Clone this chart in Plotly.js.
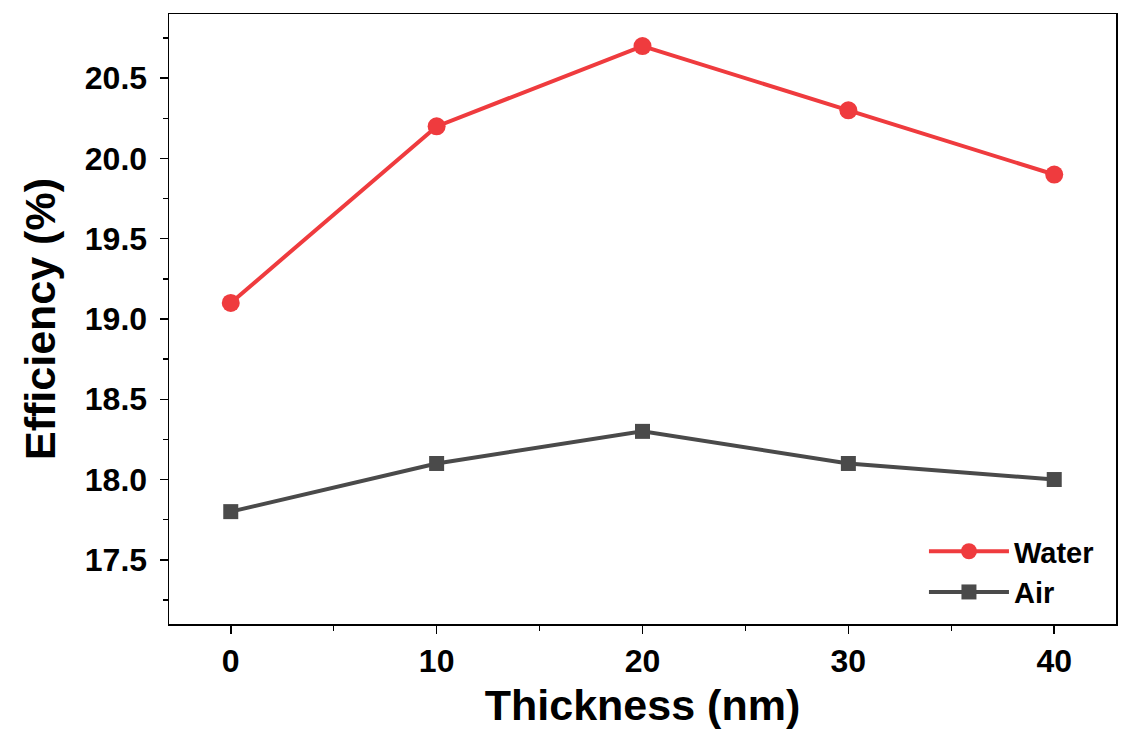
<!DOCTYPE html>
<html>
<head>
<meta charset="utf-8">
<script src="https://cdn.plot.ly/plotly-3.0.1.min.js"></script>
<style>html,body{margin:0;padding:0;background:#fff;}#chart{width:1131px;height:748px;}</style>
</head>
<body>
<div id="chart"></div>
<script>
const thickness = [0, 10, 20, 30, 40];
const water = [19.1, 20.2, 20.7, 20.3, 19.9];
const air = [17.8, 18.1, 18.3, 18.1, 18.0];
const xTickVals = [0, 10, 20, 30, 40];
const yTickVals = [17.5, 18.0, 18.5, 19.0, 19.5, 20.0, 20.5];

const font = 'Liberation Sans, Arial, sans-serif';
const traces = [
  {x: thickness, y: water, name: 'Water', mode: 'lines+markers', type: 'scatter',
   line: {color: '#ef3b3e', width: 4}, marker: {symbol: 'circle', size: 18, color: '#ef3b3e'}},
  {x: thickness, y: air, name: 'Air', mode: 'lines+markers', type: 'scatter',
   line: {color: '#4a4a4a', width: 4}, marker: {symbol: 'square', size: 15, color: '#4a4a4a'}}
];
const layout = {
  width: 1131, height: 748,
  margin: {l: 169, r: 15, t: 14, b: 124},
  paper_bgcolor: '#fff', plot_bgcolor: '#fff',
  showlegend: true,
  legend: {x: 0.982, y: 0.01, xanchor: 'right', yanchor: 'bottom', bgcolor: 'rgba(0,0,0,0)',
    font: {family: font, size: 29, color: '#000', weight: 'bold'}, tracegroupgap: 0, itemwidth: 80},
  xaxis: {
    range: [-3, 43], tickvals: xTickVals, ticktext: xTickVals.map(String),
    ticks: 'outside', ticklen: 8, tickwidth: 1.5, tickcolor: '#000',
    minor: {dtick: 5, tick0: 0, ticks: 'outside', ticklen: 5, tickwidth: 1.5, tickcolor: '#000'},
    showline: true, linecolor: '#000', linewidth: 1.5, mirror: true, showgrid: false, zeroline: false,
    tickfont: {family: font, size: 32, color: '#000', weight: 'bold'},
    title: {text: 'Thickness (nm)', font: {family: font, size: 43, color: '#000', weight: 'bold'}, standoff: 12}
  },
  yaxis: {
    range: [17.1, 20.9], tickvals: yTickVals, ticktext: yTickVals.map(v => v.toFixed(1)),
    ticks: 'outside', ticklen: 8, tickwidth: 1.5, tickcolor: '#000', ticklabelstandoff: 6,
    minor: {dtick: 0.25, tick0: 17.0, ticks: 'outside', ticklen: 5, tickwidth: 1.5, tickcolor: '#000'},
    showline: true, linecolor: '#000', linewidth: 1.5, mirror: true, showgrid: false, zeroline: false,
    tickfont: {family: font, size: 32, color: '#000', weight: 'bold'},
    title: {text: 'Efficiency (%)', font: {family: font, size: 43, color: '#000', weight: 'bold'}, standoff: 16}
  }
};
Plotly.newPlot('chart', traces, layout, {displayModeBar: false, staticPlot: true});
</script>
</body>
</html>
